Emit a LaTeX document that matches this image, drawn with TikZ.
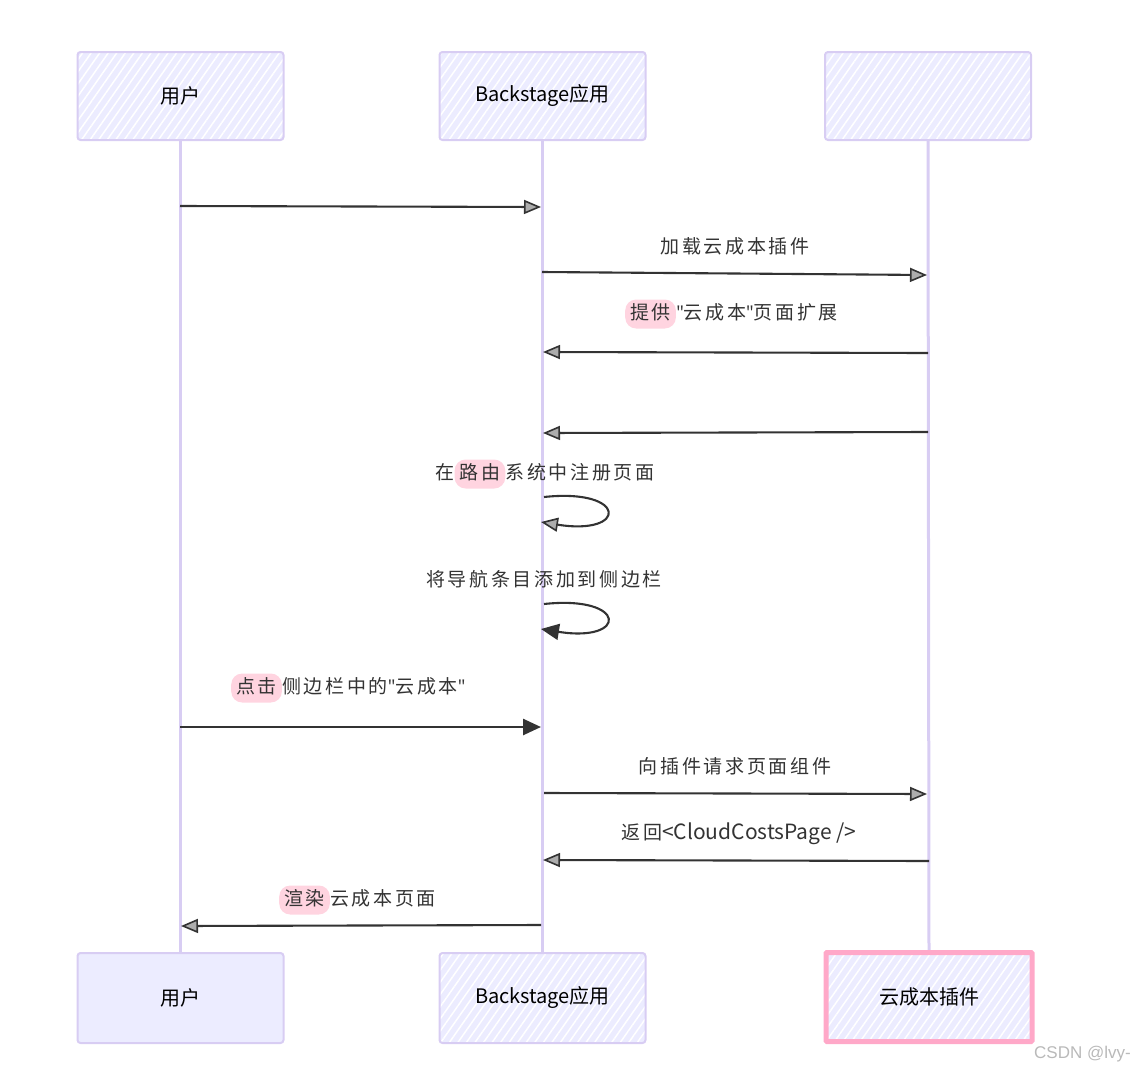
\documentclass[tikz,border=0pt]{standalone}
\usepackage{fontspec}
\setmainfont{Noto Sans CJK SC}
\newfontfamily\wmfont{Liberation Sans}
\newfontfamily\latfont{Open Sans}
\newcommand{\qq}{{\latfont\addfontfeatures{LetterSpace=0}"}}
\usetikzlibrary{arrows.meta,patterns.meta,backgrounds}
\definecolor{lav}{HTML}{ECECFF}
\definecolor{lavline}{HTML}{D8CDF3}
\definecolor{ink}{HTML}{333333}
\definecolor{hlpink}{HTML}{FFD4E0}
\definecolor{pinkb}{HTML}{FFA8C8}
\begin{document}
\begin{tikzpicture}[x=1pt,y=-1pt,
  actor/.style={preaction={fill=lav},
    pattern={Lines[angle=55,distance=7pt,line width=1.5pt]},pattern color=white,
    draw=lavline,line width=2pt,rounded corners=3pt,
    minimum width=206pt,minimum height=88pt,
    font=\fontsize{20}{24}\selectfont,text=black},
  actorsolid/.style={fill=lav,draw=lavline,line width=2pt,rounded corners=3pt,
    minimum width=206pt,minimum height=90pt,
    font=\fontsize{20}{24}\selectfont,text=black},
  life/.style={draw=lavline,line width=3pt},
  lbl/.style={font=\fontsize{19}{22}\selectfont\addfontfeatures{LetterSpace=14},
    text=ink,inner sep=0pt,text height=15pt,text depth=4pt},
  hl/.style={lbl,fill=hlpink,rounded corners=11pt,inner xsep=5pt,inner ysep=5pt},
  msg/.style={draw=ink,line width=2.1pt},
  hatchtip/.style={msg,-{Triangle[length=17pt,width=14pt,fill=ink!40,line width=1.6pt]}},
  filltip/.style={msg,-{Triangle[length=18pt,width=16pt,fill=ink]}},
]
\useasboundingbox (0,0) rectangle (1136,1074);

% actors
\node[actor] (ut) at (180.5,96) {用户};
\node[actor] (bt) at (542.5,96) {Backstage应用};
\node[actor] (pt) at (928,96) {};
\node[actorsolid] (ub) at (180.5,998) {用户};
\node[actor,minimum height=90pt] (bb) at (542.5,998) {Backstage应用};
\node[actor,draw=pinkb,line width=5pt,rounded corners=1pt,minimum width=206pt,minimum height=89pt] (pb) at (929,997) {云成本插件};

% lifelines
\begin{scope}[on background layer]
\draw[life] (ut.south) -- (ub.north);
\draw[life] (bt.south) -- (bb.north);
\draw[life] (pt.south) -- (pb.north);
\end{scope}

% message anchor points
\coordinate (m1a) at (180,206);  \coordinate (m1b) at (541,207);
\coordinate (m2a) at (542,272);  \coordinate (m2b) at (927,275);
\coordinate (m3a) at (928,353);  \coordinate (m3b) at (543,352);
\coordinate (m4a) at (928,432);  \coordinate (m4b) at (543,433);
\coordinate (m5a) at (544,497);  \coordinate (m5b) at (541,522);
\coordinate (m6a) at (544,604);  \coordinate (m6b) at (541,629);
\coordinate (m7a) at (180,727);  \coordinate (m7b) at (541,727);
\coordinate (m8a) at (544,793);  \coordinate (m8b) at (927,794);
\coordinate (m9a) at (929,861);  \coordinate (m9b) at (543,860);
\coordinate (m10a) at (541,925); \coordinate (m10b) at (181,926);

% messages
\draw[hatchtip] (m1a) -- (m1b);
\draw[hatchtip] (m2a) -- (m2b);
\draw[hatchtip] (m3a) -- (m3b);
\draw[hatchtip] (m4a) -- (m4b);
\draw[hatchtip] (m5a) .. controls (628,488) and (628,536) .. (m5b);
\draw[filltip] (m6a) .. controls (628,595) and (628,643) .. (m6b);
\draw[filltip,line width=2.6pt] (m7a) -- (m7b);
\draw[hatchtip] (m8a) -- (m8b);
\draw[hatchtip] (m9a) -- (m9b);
\draw[hatchtip] (m10a) -- (m10b);

% labels
\node[lbl] (l2) at (735,248) {加载云成本插件};
\node[hl,anchor=west] (l3a) at (625,314) {提供};
\node[lbl,anchor=west] (l3b) at (l3a.east) {\qq 云成本\qq 页面扩展};
\node[lbl,anchor=west] (l5a) at (435,474) {在};
\node[hl,anchor=west] (l5b) at (l5a.east) {路由};
\node[lbl,anchor=west] (l5c) at (l5b.east) {系统中注册页面};
\node[lbl] (l6) at (544,581) {将导航条目添加到侧边栏};
\node[hl,anchor=west] (l7a) at (231,688) {点击};
\node[lbl,anchor=west] (l7b) at (l7a.east) {侧边栏中的\qq 云成本\qq};
\node[lbl] (l8) at (735,768) {向插件请求页面组件};
\node[lbl] (l9) at (739,834) {返回{\addfontfeatures{LetterSpace=0}\fontsize{21}{24}\selectfont<CloudCostsPage />}};
\node[hl,anchor=west] (l10a) at (279,900) {渲染};
\node[lbl,anchor=west] (l10b) at (l10a.east) {云成本页面};

% watermark
\node[anchor=east,text=gray!55,font=\wmfont\fontsize{17}{20}\selectfont,inner sep=0pt] (wm) at (1131,1054) {CSDN @lvy-};
\end{tikzpicture}
\end{document}
